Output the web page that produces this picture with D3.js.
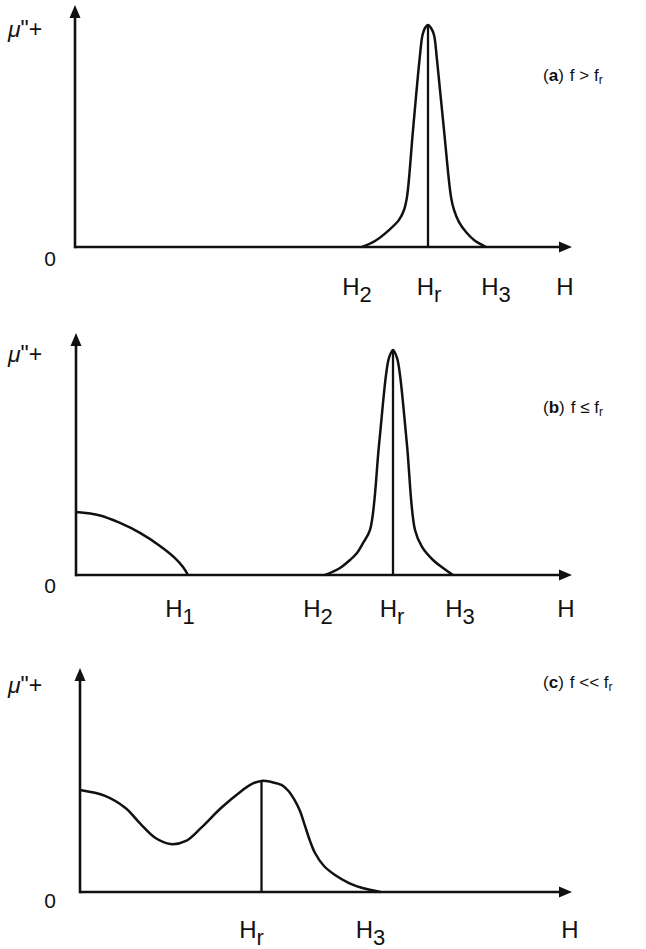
<!DOCTYPE html>
<html>
<head>
<meta charset="utf-8">
<script src="https://cdn.jsdelivr.net/npm/d3@7"></script>
<style>
  html, body { margin: 0; padding: 0; background: #fff; }
  svg { display: block; }
  text { font-family: "Liberation Sans", Arial, Helvetica, sans-serif; fill: #111; }
</style>
</head>
<body>
<svg id="chart" width="646" height="949"></svg>
<script>
// Absorption μ'' versus field H for three frequency regimes.
// Field H and μ'' are in arbitrary units (0–100 along each axis).

// (a) f > fr : a single sharp resonance at Hr
const curveA_H  = [57.4, 60.0, 62.8, 64.8, 65.8, 66.4, 67.6, 68.9, 69.5, 70.0, 70.6, 71.2, 71.8, 72.4, 73.8, 75.2, 75.8, 76.8, 78.2, 79.8, 82.2];
const curveA_mu = [0, 2.5, 7.0, 11.2, 15.3, 20.7, 48.3, 77.3, 87.6, 90.5, 91.7, 90.5, 87.6, 77.3, 48.3, 20.7, 15.3, 10.3, 6.2, 2.9, 0];
const resonanceA = { H: 70.6, mu: 91.7 };
const ticksA = [
  { label: "H", sub: "2", H: 56.4 },
  { label: "H", sub: "r", H: 70.8 },
  { label: "H", sub: "3", H: 84.2 },
  { label: "H", sub: "",  H: 98.0 }
];

// (b) f ≤ fr : low-field loss below H1 plus the resonance
const lowFieldB_H  = [0, 4.8, 8.8, 12.8, 16.8, 19.8, 21.4, 22.4];
const lowFieldB_mu = [26.0, 24.6, 21.5, 17.4, 12.0, 7.0, 3.3, 0];
const curveB_H  = [49.8, 52.8, 54.8, 56.2, 57.4, 58.8, 60.6, 62.0, 62.6, 63.4, 64.2, 64.8, 66.2, 67.8, 69.2, 71.4, 73.4, 75.4];
const curveB_mu = [0, 2.9, 6.2, 9.1, 13.2, 18.6, 53.7, 82.6, 89.7, 93.0, 89.7, 82.6, 53.7, 18.6, 11.6, 6.2, 2.9, 0];
const resonanceB = { H: 63.4, mu: 93.0 };
const ticksB = [
  { label: "H", sub: "1", H: 20.8 },
  { label: "H", sub: "2", H: 48.4 },
  { label: "H", sub: "r", H: 63.2 },
  { label: "H", sub: "3", H: 76.8 },
  { label: "H", sub: "",  H: 98.0 }
];

// (c) f << fr : broad, merged low-field and resonance absorption
const curveC_H  = [0, 5.0, 9.1, 12.1, 15.1, 18.1, 21.2, 24.2, 28.2, 32.3, 34.3, 36.3, 38.3, 40.3, 41.7, 42.9, 44.0, 45.0, 46.0, 47.0, 48.8, 51.0, 53.8, 56.5, 60.1];
const curveC_mu = [45.5, 42.9, 37.5, 30.4, 24.1, 21.4, 22.8, 28.6, 37.5, 45.1, 48.2, 49.6, 49.1, 47.8, 45.1, 41.1, 36.2, 29.5, 22.8, 17.4, 11.6, 7.6, 4.0, 1.8, 0];
const resonanceC = { H: 36.3, mu: 49.6 };
const ticksC = [
  { label: "H", sub: "r", H: 34.3 },
  { label: "H", sub: "3", H: 58.1 },
  { label: "H", sub: "",  H: 98.0 }
];

const panelTitles = [
  { tag: "a", cond: "f > f", sub: "r" },
  { tag: "b", cond: "f \u2264 f", sub: "r" },
  { tag: "c", cond: "f << f", sub: "r" }
];

// Panel frames (pixel layout)
const panels = [
  { x0: 75, x1: 572, base: 247, top: 5,   labelY: 295, zeroY: 266, muY: 37,  titleY: 81,
    curves: [[curveA_H, curveA_mu]], res: resonanceA, ticks: ticksA, title: panelTitles[0] },
  { x0: 76, x1: 572, base: 575, top: 333, labelY: 617, zeroY: 593, muY: 362, titleY: 413,
    curves: [[lowFieldB_H, lowFieldB_mu], [curveB_H, curveB_mu]], res: resonanceB, ticks: ticksB, title: panelTitles[1] },
  { x0: 80, x1: 572, base: 892, top: 668, labelY: 938, zeroY: 908, muY: 693, titleY: 688,
    curves: [[curveC_H, curveC_mu]], res: resonanceC, ticks: ticksC, title: panelTitles[2] }
];

const svg = d3.select("#chart");
const ink = "#111";

panels.forEach(p => {
  const g = svg.append("g");
  const x = d3.scaleLinear().domain([0, 100]).range([p.x0, p.x0 + (576 - 76)]);
  const y = d3.scaleLinear().domain([0, 100]).range([p.base, p.top]);

  // axes with arrowheads
  const xEnd = p.x1, yTop = y(100);
  g.append("line").attr("x1", x(0)).attr("y1", p.base).attr("x2", xEnd - 8).attr("y2", p.base)
    .attr("stroke", ink).attr("stroke-width", 2.6);
  g.append("line").attr("x1", x(0)).attr("y1", p.base + 1.3).attr("x2", x(0)).attr("y2", yTop + 8)
    .attr("stroke", ink).attr("stroke-width", 2.6);
  g.append("path")
    .attr("d", `M${xEnd},${p.base} L${xEnd - 13},${p.base - 5.5} L${xEnd - 13},${p.base + 5.5} Z`)
    .attr("fill", ink);
  g.append("path")
    .attr("d", `M${x(0)},${yTop} L${x(0) - 5.5},${yTop + 13} L${x(0) + 5.5},${yTop + 13} Z`)
    .attr("fill", ink);

  // absorption curves
  const line = d3.line().x(d => x(d[0])).y(d => y(d[1])).curve(d3.curveCatmullRom.alpha(0.5));
  p.curves.forEach(([hs, mus]) => {
    g.append("path").datum(hs.map((h, i) => [h, mus[i]]))
      .attr("d", line).attr("fill", "none").attr("stroke", ink)
      .attr("stroke-width", 2.5).attr("stroke-linejoin", "round");
  });

  // resonance marker at Hr
  g.append("line").attr("x1", x(p.res.H)).attr("x2", x(p.res.H))
    .attr("y1", y(0)).attr("y2", y(p.res.mu))
    .attr("stroke", ink).attr("stroke-width", 2.3);

  // field labels along H
  p.ticks.forEach(t => {
    const tx = g.append("text").attr("x", x(t.H)).attr("y", p.labelY)
      .attr("text-anchor", "middle").attr("font-size", 24);
    tx.append("tspan").text(t.label);
    if (t.sub) tx.append("tspan").attr("dy", 7).attr("font-size", 22).text(t.sub);
  });

  // origin and ordinate label
  g.append("text").attr("x", 50).attr("y", p.zeroY).attr("text-anchor", "middle")
    .attr("font-size", 21).text("0");
  const mu = g.append("text").attr("x", 8).attr("y", p.muY).attr("font-size", 23);
  mu.append("tspan").attr("font-style", "italic").text("\u03bc");
  mu.append("tspan").text("\"+");

  // regime caption
  const cap = g.append("text").attr("x", 543).attr("y", p.titleY).attr("font-size", 17);
  cap.append("tspan").text("(");
  cap.append("tspan").attr("font-weight", "bold").text(p.title.tag);
  cap.append("tspan").text(")");
  cap.append("tspan").attr("dx", 6).text(p.title.cond);
  cap.append("tspan").attr("dy", 3).attr("font-size", 12).text(p.title.sub);
});
</script>
</body>
</html>
